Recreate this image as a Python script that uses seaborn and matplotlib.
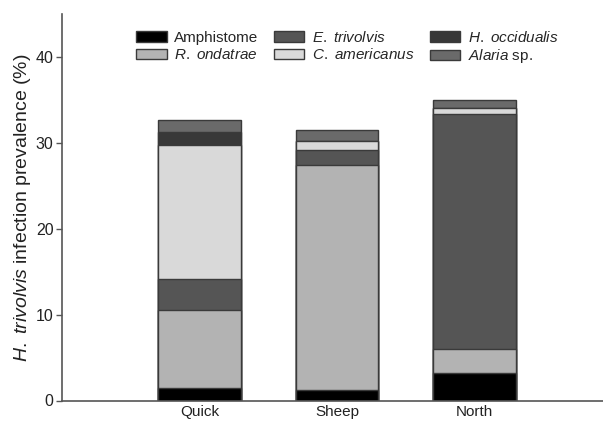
import matplotlib
matplotlib.use("Agg")
import matplotlib.pyplot as plt
from matplotlib.patches import Patch
import numpy as np
import pandas as pd
import seaborn as sns

sns.set_theme(style="ticks")
plt.rcParams["font.family"] = ["Liberation Sans", "DejaVu Sans"]
plt.rcParams["mathtext.fontset"] = "custom"
plt.rcParams["mathtext.rm"] = "Liberation Sans"
plt.rcParams["mathtext.it"] = "Liberation Sans:italic"

# Sites and infection prevalence (%) per parasite taxon, bottom to top of stack
sites = ["Quick", "Sheep", "North"]
amphistome = [1.5, 1.2, 3.2]
r_ondatrae = [9.0, 26.2, 2.85]
e_trivolvis = [3.6, 1.75, 27.25]
c_americanus = [15.65, 1.1, 0.8]
h_occidualis = [1.5, 0.0, 0.0]
alaria = [1.4, 1.25, 0.85]

taxa = [
    r"Amphistome",
    r"$\it{R.}$ $\it{ondatrae}$",
    r"$\it{E.}$ $\it{trivolvis}$",
    r"$\it{C.}$ $\it{americanus}$",
    r"$\it{H.}$ $\it{occidualis}$",
    r"$\it{Alaria}$ sp.",
]
series = [amphistome, r_ondatrae, e_trivolvis, c_americanus, h_occidualis, alaria]
colors = ["#000000", "#b3b3b3", "#555555", "#d9d9d9", "#383838", "#6a6a6a"]

fig = plt.figure(figsize=(6.03, 4.21), dpi=100)
ax = fig.add_axes([62 / 603, 20.5 / 421, (603 - 62) / 603, 386.5 / 421])

# Stacked bars: draw cumulative totals from the top segment down
cum = np.cumsum(np.array(series), axis=0)
for i in range(len(series) - 1, -1, -1):
    df = pd.DataFrame({"site": sites, "value": cum[i]})
    sns.barplot(data=df, x="site", y="value", order=sites, color=colors[i],
                saturation=1, width=0.6, edgecolor="#3a3a3a", linewidth=1.0,
                ax=ax, errorbar=None)

ax.set_xlim(-1, 2.935)
ax.set_ylim(0, 45)
ax.set_yticks([0, 10, 20, 30, 40])
ax.set_xlabel("")
ax.set_ylabel(r"$\it{H.}$ $\it{trivolvis}$ infection prevalence (%)", fontsize=14,
              color="#222222", labelpad=2)

for side in ["top", "right"]:
    ax.spines[side].set_visible(False)
for side in ["left", "bottom"]:
    ax.spines[side].set_color("#555555")
    ax.spines[side].set_linewidth(1.2)

ax.tick_params(axis="y", length=4, width=1, color="#555555", pad=2,
               labelsize=11.5, labelcolor="#222222")
ax.tick_params(axis="x", length=0, pad=3, labelsize=11, labelcolor="#222222")

handles = [Patch(facecolor=c, edgecolor="#3a3a3a", linewidth=1.0) for c in colors]
ax.legend(handles, taxa, ncol=3, frameon=False, fontsize=11,
          loc="upper left", bbox_to_anchor=(136 / 603, 1 - 30 / 421),
          bbox_transform=fig.transFigure, handlelength=2.0, handleheight=0.7,
          handletextpad=0.5, columnspacing=1.0, labelspacing=0.15,
          borderpad=0, borderaxespad=0)

fig.savefig("out.png", dpi=100)
